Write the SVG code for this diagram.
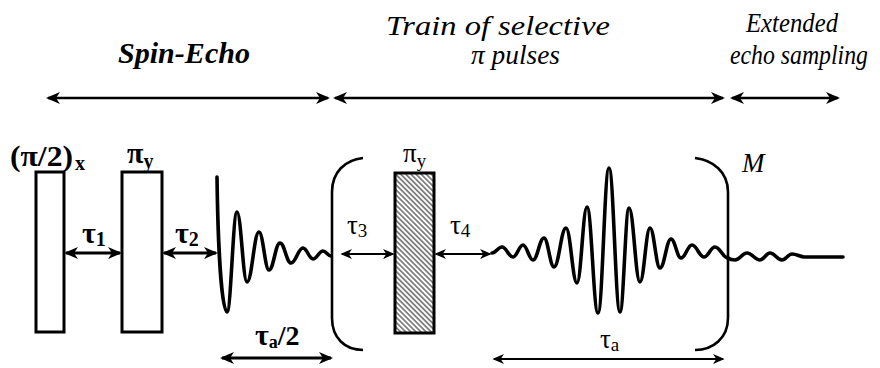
<svg xmlns="http://www.w3.org/2000/svg" width="880" height="368" viewBox="0 0 880 368" font-family="'Liberation Serif', 'Times New Roman', Times, 'DejaVu Serif', serif">
<style>
.hdr{font-style:italic;font-size:27px}
.se{font-style:italic;font-weight:bold;font-size:30px}
.lb{font-weight:bold;font-size:30px}
.lbs{font-weight:bold;font-size:20px}
.ln{font-size:27px}
.lns{font-size:19px}
.box{fill:#fff;stroke:#000;stroke-width:3}
.ar{stroke:#000;fill:none}
.wave{fill:none;stroke:#000;stroke-width:3.6;stroke-linejoin:round;stroke-linecap:round}
.br{fill:none;stroke:#000;stroke-width:2.6}
</style>
<defs>
<marker id="ah" viewBox="0 0 14 12" markerWidth="14" markerHeight="12" refX="12" refY="6" orient="auto-start-reverse" markerUnits="userSpaceOnUse">
<path d="M0,0 L14,6 L0,12 L4,6 z" fill="#000"/>
</marker>
<marker id="ahs" viewBox="0 0 14 12" markerWidth="12" markerHeight="10" refX="12" refY="6" orient="auto-start-reverse" markerUnits="userSpaceOnUse">
<path d="M0,0 L14,6 L0,12 L4,6 z" fill="#000"/>
</marker>
<pattern id="hatch" patternUnits="userSpaceOnUse" width="3.6" height="3.6" patternTransform="rotate(45)">
<rect width="3.6" height="3.6" fill="#fff"/>
<line x1="0" y1="1.8" x2="3.6" y2="1.8" stroke="#000" stroke-width="0.9"/>
</pattern>
</defs>

<g id="headers">
<text class="se" x="118" y="63" textLength="132" lengthAdjust="spacingAndGlyphs">Spin-Echo</text>
<text class="hdr" x="386" y="35" textLength="224" lengthAdjust="spacingAndGlyphs">Train of selective</text>
<text class="hdr" x="471" y="64" textLength="89" lengthAdjust="spacingAndGlyphs">π  pulses</text>
<text class="hdr" x="746" y="32" textLength="92" lengthAdjust="spacingAndGlyphs">Extended</text>
<text class="hdr" x="868" y="64" font-size="25" text-anchor="end" textLength="138" lengthAdjust="spacingAndGlyphs">echo sampling</text>
</g>

<g id="pulse1">
<rect class="box" x="36" y="172" width="28" height="160"/>
<text class="lb" x="10" y="166" textLength="63" lengthAdjust="spacingAndGlyphs">(π/2)</text>
<text class="lbs" x="75" y="170">x</text>
</g>
<g id="pulse2">
<rect class="box" x="122" y="172" width="40" height="160"/>
<text class="lb" x="127" y="163">π<tspan class="lbs" dy="5">y</tspan></text>
</g>
<g id="pulse3">
<rect x="395" y="173" width="39" height="160" fill="url(#hatch)" stroke="#000" stroke-width="3"/>
<text class="ln" x="403" y="162">π<tspan class="lns" dy="5">y</tspan></text>
</g>

<g id="fid">
<path class="wave" d="M217,177 C218,250 222,312 227,312 C231,312 233,212 237,212 C241,212 243,282 247,282 C252,282 254,232 259,232 C263,232 265,270 269,270 C273.5,270 275.5,243 280,243 C284.5,243 286.5,263 291,263 C296,263 298,248 303,248 C307,248 309,259 313,259 C317,259 319,251 323,251 C326,251 328,256 331,256"/>
</g>

<g id="echo">
<path class="wave" d="M492,253 C496,253 498,247 502,247 C506.5,247 508.5,257 513,257 C517,257 519,245 523,245 C527,245 529,260 533,260 C537.5,260 539.5,238 544,238 C548,238 550,267 554,267 C559,267 561,228 566,228 C570.5,228 572.5,283 577,283 C581,283 583,207 587,207 C591.5,207 593.5,313 598,313 C602.5,313 604.5,168 609,168 C613.5,168 615.5,312 620,312 C623.5,312 625.5,208 629,208 C633.5,208 635.5,282 640,282 C644,282 646,228 650,228 C654,228 656,268 660,268 C664.5,268 666.5,239 671,239 C675,239 677,258 681,258 C685.5,258 687.5,245 692,245 C697,245 699,257 704,257 C708.5,257 710.5,247 715,247 C720,247 723,258 728,258"/>
<path class="wave" stroke-width="2.6" d="M728,258 C731,260 732,260 735,260 C740,260 742,253 747,253 C752,253 755,260 760,260 C764,260 766,253 770,253 C775,253 777,260 782,260 C786,260 788,254 792,254 C797,254 800,257 805,257 L843,257"/>
</g>

<g id="brackets">
<path class="br" d="M363,158 C345,160 332,172 332,192 L332,318 C332,338 345,350 363,350"/>
<path class="br" d="M695,158 C713,160 728,172 728,192 L728,318 C728,338 713,350 695,350"/>
<text class="hdr" x="742" y="172">M</text>
</g>

<g id="labels">
<text class="lb" x="82" y="243">τ<tspan class="lbs" dy="3">1</tspan></text>
<text class="lb" x="175" y="243">τ<tspan class="lbs" dy="3">2</tspan></text>
<text class="lb" x="255" y="345">τ<tspan font-size="18" dy="3">a</tspan><tspan font-size="28" dy="-3">/2</tspan></text>
<text class="ln" x="347" y="234">τ<tspan class="lns" dy="3">3</tspan></text>
<text class="ln" x="450" y="234">τ<tspan class="lns" dy="3">4</tspan></text>
<text class="ln" x="600" y="348">τ<tspan class="lns" dy="3">a</tspan></text>
</g>

<g id="connectors">
<line class="ar" stroke-width="2.6" x1="48" y1="98" x2="328" y2="98" marker-start="url(#ah)" marker-end="url(#ah)"/>
<line class="ar" stroke-width="2.6" x1="335" y1="98" x2="723" y2="98" marker-start="url(#ah)" marker-end="url(#ah)"/>
<line class="ar" stroke-width="2.6" x1="732" y1="98" x2="838" y2="98" marker-start="url(#ah)" marker-end="url(#ah)"/>
<line class="ar" stroke-width="2.8" x1="66" y1="253" x2="120" y2="253" marker-start="url(#ah)" marker-end="url(#ah)"/>
<line class="ar" stroke-width="2.8" x1="164" y1="253" x2="216" y2="253" marker-start="url(#ah)" marker-end="url(#ah)"/>
<line class="ar" stroke-width="2" x1="342" y1="254" x2="393" y2="254" marker-start="url(#ahs)" marker-end="url(#ahs)"/>
<line class="ar" stroke-width="2" x1="436" y1="254" x2="490" y2="254" marker-start="url(#ahs)" marker-end="url(#ahs)"/>
<line class="ar" stroke-width="3" x1="222" y1="358" x2="331" y2="358" marker-start="url(#ah)" marker-end="url(#ah)"/>
<line class="ar" stroke-width="1.8" x1="494" y1="359" x2="723" y2="359" marker-start="url(#ahs)" marker-end="url(#ahs)"/>
</g>
</svg>
